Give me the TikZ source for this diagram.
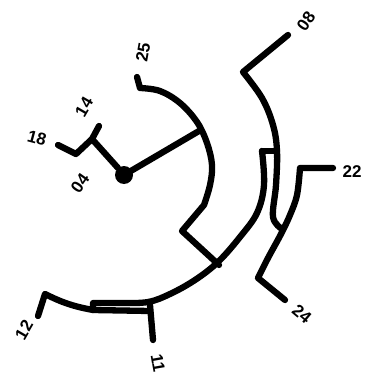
\documentclass[tikz,border=0pt]{standalone}
\usepackage{fontspec}
\setmainfont{Liberation Sans}
\begin{document}
\begin{tikzpicture}[x=1pt,y=-1pt,
  br/.style={line width=6.3pt, line cap=round, line join=round},
  lab/.style={font=\fontsize{17}{17}\selectfont\bfseries, inner sep=0pt}]
\useasboundingbox (0,0) rectangle (370,382);
% labels
\node[lab, rotate=80]  (l25) at (143,52)  {25};
\node[lab, rotate=55]  (l08) at (306,21)  {08};
\node[lab]             (l22) at (352,172) {22};
\node[lab, rotate=-40] (l24) at (302,314) {24};
\node[lab, rotate=-80] (l11) at (158,363) {11};
\node[lab, rotate=60]  (l12) at (24,330)  {12};
\node[lab, rotate=-15] (l18) at (37,138)  {18};
\node[lab, rotate=60]  (l14) at (84,107)  {14};
\node[lab, rotate=55]  (l04) at (80,183)  {04};
% key coordinates
\coordinate (e25) at (137,77);
\coordinate (a25) at (140,88);
\coordinate (k25) at (182,231);
\coordinate (j25) at (219,265);
\coordinate (root) at (124,175);
\coordinate (s25) at (199,131);
\coordinate (A) at (92,139);
\coordinate (e14) at (99,126);
\coordinate (v18) at (76,154);
\coordinate (e18) at (58,145);
\coordinate (e08) at (288,35);
\coordinate (v08) at (243,72);
\coordinate (t08) at (277,151);
\coordinate (tb) at (262,151);
\coordinate (e22) at (333,168);
\coordinate (v22) at (300,168);
\coordinate (v24) at (258,278);
\coordinate (e24) at (285,300);
\coordinate (e12) at (38,316);
\coordinate (v12) at (45,294);
\coordinate (bl2) at (93,310);
\coordinate (br2) at (150,311);
\coordinate (t11) at (150,305);
\coordinate (e11) at (153,340);
% 25 clade
\draw[br] (e25) -- (a25) -- plot[smooth, tension=0.6] coordinates
  {(140,88) (160,91) (180,103) (197,122) (207,143) (212,165) (210,185) (204,205)}
  -- (k25) -- (j25);
\draw[br] (root) -- (s25);
\fill (root) circle (9);
\draw[br] (118,168) -- (A) -- (e14);
\draw[br] (A) -- (v18) -- (e18);
% 08 clade
\draw[br] (e08) -- (v08) -- plot[smooth, tension=0.6] coordinates
  {(243,72) (262,98) (273,125) (277,151) (276,185) (273,217) (282,229)};
\draw[br] (t08) -- (tb);
% big arc
\draw[br] plot[smooth, tension=0.6] coordinates
  {(262,151) (264,185) (257,213) (240,237) (218,262) (195,280) (170,294) (148,302) (120,303) (93,303)}
  -- (bl2);
% 12 and 11
\draw[br] (e12) -- (v12) to[bend right=8] (bl2) -- (br2);
\draw[br] (t11) -- (e11);
% 22 / 24
\draw[br] (e22) -- (v22) -- plot[smooth, tension=0.6] coordinates
  {(300,168) (297,195) (290,215) (281,234) (268,258) (258,278)} -- (e24);
\end{tikzpicture}
\end{document}
